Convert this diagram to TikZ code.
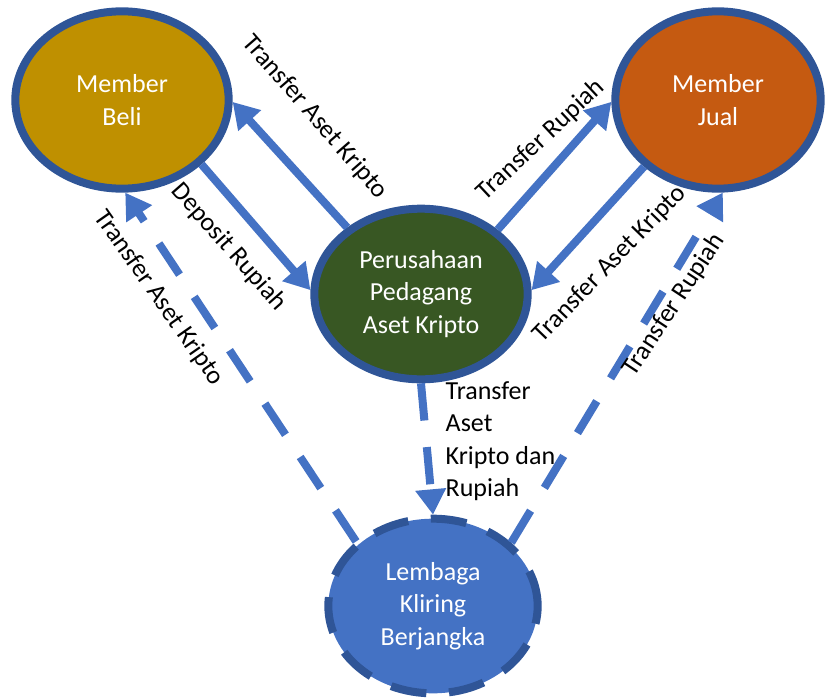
\documentclass[tikz,border=0pt]{standalone}
\usepackage{fontspec}
\setmainfont{Carlito}
\usetikzlibrary{shapes.geometric,arrows.meta}

\definecolor{rim}{HTML}{2F5597}
\definecolor{flowblue}{HTML}{4472C4}
\definecolor{gold}{HTML}{BF9000}
\definecolor{rust}{HTML}{C55A11}
\definecolor{forest}{HTML}{385723}
\newcommand{\lblsize}{\fontsize{19.5}{24.4}\selectfont}

\begin{document}
\begin{tikzpicture}[x=0.75pt, y=-0.75pt,
	party/.style={ellipse, draw=rim, line width=6pt, inner sep=0pt,
		align=center, text=white, font=\lblsize},
	flowline/.style={draw=flowblue, line width=6pt, -{Triangle[length=19pt,width=22pt]}},
	dashline/.style={flowline, dash pattern=on 28pt off 20pt},
	tag/.style={font=\lblsize}]
	\useasboundingbox (0,0) rectangle (825,700);
	% Draw the parties
	\node[party, fill=gold, minimum width=160pt, minimum height=133pt]     (beli)     at (122,100) {Member\\Beli};
	\node[party, fill=rust, minimum width=154pt, minimum height=133pt]     (jual)     at (718,100) {Member\\Jual};
	\node[party, fill=forest, minimum width=160pt, minimum height=128pt]   (pedagang) at (421,294) {Perusahaan\\Pedagang\\Aset Kripto};
	\node[party, fill=flowblue, minimum width=157pt, minimum height=131pt,
		dash pattern=on 27pt off 17pt]                                      (kliring)  at (433,606) {Lembaga\\Kliring\\Berjangka};
	% Connect the parties with arrows
	\draw[flowline] (pedagang.138) -- (beli.-1);
	\draw[flowline] (beli.-39) -- (pedagang.178);
	\draw[flowline] (pedagang.40) -- (jual.181);
	\draw[flowline] (jual.222) -- (pedagang.2);
	\draw[dashline] (kliring.140) -- (beli.-88);
	\draw[dashline] (kliring.39) -- (jual.-87);
	\draw[dashline] (pedagang.-90) -- (kliring.90);
	% Put the labels next to the arrows
	\node[tag, rotate=-49]  (t1) at (315,117) {Transfer Aset Kripto};
	\node[tag, rotate=-48.6](t2) at (229,247) {Deposit Rupiah};
	\node[tag, rotate=43]   (t3) at (541,140) {Transfer Rupiah};
	\node[tag, rotate=46]   (t4) at (610,264) {Transfer Aset Kripto};
	\node[tag, rotate=-55]  (t5) at (159,298) {Transfer Aset Kripto};
	\node[tag, rotate=56.6] (t6) at (674,305) {Transfer Rupiah};
	\node[tag, align=left, anchor=west] (t7) at (441,441) {Transfer\\Aset\\Kripto dan\\Rupiah};
\end{tikzpicture}
\end{document}
